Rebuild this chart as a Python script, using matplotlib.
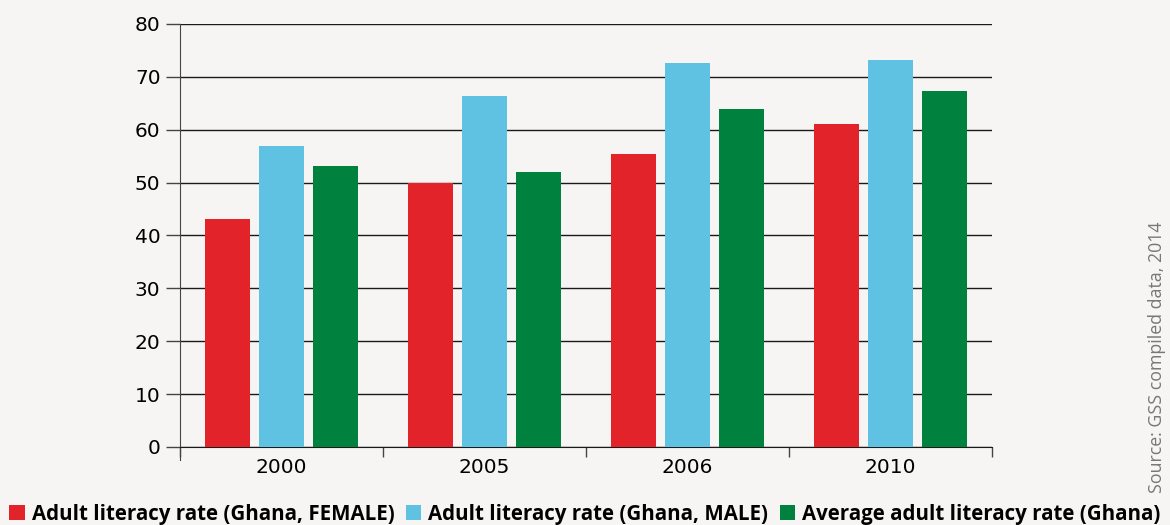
import numpy as np
import matplotlib.pyplot as plt
from matplotlib.patches import Patch

years = ["2000", "2005", "2006", "2010"]
female = [43.1, 49.9, 55.4, 61.1]
male = [56.9, 66.4, 72.6, 73.2]
average = [53.1, 52.0, 63.9, 67.3]

series_names = [
    "Adult literacy rate (Ghana, FEMALE)",
    "Adult literacy rate (Ghana, MALE)",
    "Average adult literacy rate (Ghana)",
]
colors = ["#e2232a", "#60c2e3", "#00823e"]
bg = "#f6f5f3"

plt.rcParams["font.family"] = ["Liberation Sans Narrow", "DejaVu Sans"]

fig = plt.figure(figsize=(11.7, 5.25), dpi=100, facecolor=bg)
ax = fig.add_axes([180 / 1170, 1 - 447 / 525, 812 / 1170, 423 / 525])
ax.set_facecolor(bg)

x = np.arange(len(years))
width = 0.217
step = 0.266
for i, (vals, c) in enumerate(zip([female, male, average], colors)):
    ax.bar(x + (i - 1) * step, vals, width, color=c, zorder=3)

ax.set_xlim(-0.5, len(years) - 0.5)
ax.set_ylim(0, 80)
ax.set_yticks(range(0, 81, 10))
ax.yaxis.grid(True, color="#1a1a1a", linewidth=1.0, zorder=0)
ax.set_axisbelow(True)

ax.set_xticks(x)
ax.set_xticklabels(years)
ax.set_xticks(np.arange(-0.5, len(years)), minor=True)
ax.tick_params(axis="x", which="major", length=0, labelsize=14.5, pad=8)
ax.tick_params(axis="x", which="minor", length=7, width=1, color="#444444")
ax.tick_params(axis="y", length=10, width=1, color="#444444", labelsize=14.5, pad=4)

for s in ["top", "right"]:
    ax.spines[s].set_visible(False)
ax.spines["left"].set_color("#444444")
ax.spines["bottom"].set_color("#1a1a1a")
ax.spines["left"].set_bounds(-2.5, 80)
ax.spines["left"].set_clip_on(False)

handles = [Patch(facecolor=c, edgecolor="none") for c in colors]
fig.legend(handles, series_names, loc="lower center", bbox_to_anchor=(0.50, -0.035),
           ncol=3, frameon=False, handlelength=0.75, handleheight=0.75,
           handletextpad=0.35, columnspacing=0.55,
           prop={"family": ["Open Sans", "DejaVu Sans"], "weight": "bold", "size": 14.8})

fig.text(1157 / 1170, 1 - 357 / 525, "Source: GSS compiled data, 2014", rotation=90,
         ha="center", va="center", fontsize=12.8, color="#777777",
         family=["Open Sans", "DejaVu Sans"])

fig.savefig("out.png", dpi=100, facecolor=bg)
